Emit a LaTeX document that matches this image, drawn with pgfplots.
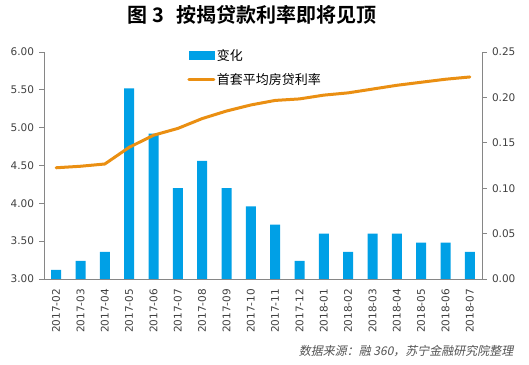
\documentclass[border=0pt]{standalone}
\usepackage{pgfplots}
\pgfplotsset{compat=1.18}
\usepackage{fontspec}
\setmainfont{DejaVu Sans}
\newfontfamily\tickfont{DejaVu Sans}
\newfontfamily\cjk{Noto Sans CJK SC}
\newfontfamily\cjkb{Noto Sans CJK SC Bold}
\newfontfamily\cjkit[FakeSlant=0.2]{Noto Sans CJK SC}
\definecolor{barblue}{HTML}{00A0E6}
\definecolor{lineorange}{HTML}{EA8F12}
\definecolor{axgray}{HTML}{868686}
\definecolor{lblgray}{HTML}{404040}
\pgfplotstableread{
x v
0 0.01
1 0.02
2 0.03
3 0.21
4 0.16
5 0.10
6 0.13
7 0.10
8 0.08
9 0.06
10 0.02
11 0.05
12 0.03
13 0.05
14 0.05
15 0.04
16 0.04
17 0.03
}\changes
\pgfplotstableread{
x r
0 4.47
1 4.49
2 4.52
3 4.74
4 4.90
5 4.99
6 5.12
7 5.22
8 5.30
9 5.36
10 5.38
11 5.43
12 5.46
13 5.51
14 5.56
15 5.60
16 5.64
17 5.67
}\rates
\pgfplotsset{
  common/.style={
    scale only axis,
    width=438bp, height=227bp,
    at={(44bp,86bp)}, anchor=south west,
    xmin=-0.5, xmax=17.5,
    axis line style={axgray, line width=0.8bp},
    tick style={axgray, line width=0.8bp},
    tick align=outside,
    major tick length=4.5bp,
    tick label style={font=\tickfont\fontsize{10.5bp}{12bp}\selectfont, text=lblgray},
    /pgf/number format/assume math mode=true,
    yticklabel style={/pgf/number format/fixed, /pgf/number format/fixed zerofill, /pgf/number format/precision=2},
  }
}
\begin{document}
\begin{tikzpicture}
\path[use as bounding box] (0,0) rectangle (529bp,365bp);
% bars on secondary (right) axis
\begin{axis}[common,
  axis x line*=bottom,
  axis y line*=right,
  ymin=0, ymax=0.25,
  ytick={0,0.05,...,0.25},
  xtick={0,...,17},
  xticklabels={2017-02,2017-03,2017-04,2017-05,2017-06,2017-07,2017-08,2017-09,2017-10,2017-11,2017-12,2018-01,2018-02,2018-03,2018-04,2018-05,2018-06,2018-07},
  x tick label style={rotate=90, anchor=east, xshift=-2bp},
  xtick style={draw=none},
  extra x ticks={-0.5,0.5,...,17.5},
  extra x tick labels={},
  extra x tick style={tick style={axgray, line width=0.8bp, draw=axgray}, major tick length=4.5bp},
  yticklabel style={xshift=2bp},
]
\addplot[ybar, bar width=10bp, bar shift=0pt, fill=barblue, draw=none] table[x=x, y=v] {\changes};
\end{axis}
% line on primary (left) axis
\begin{axis}[common,
  axis x line=none,
  axis y line*=left,
  ymin=3, ymax=6,
  ytick={3,3.5,...,6},
  yticklabel style={xshift=-2bp},
  legend style={at={(0.327,1.02)}, anchor=north west, draw=none, fill=none,
    font=\cjk\fontsize{13bp}{15bp}\selectfont, row sep=9bp, inner sep=0pt,
    nodes={inner sep=1.5bp, anchor=west}},
  legend cell align=left,
]
\addlegendimage{legend image code/.code={\fill[barblue] (0bp,-4bp) rectangle (25bp,4bp);}}
\addlegendentry{变化}
\addplot[lineorange, line width=3bp, line join=round, line cap=round,
  legend image code/.code={\draw[lineorange, line width=3bp] (0bp,0bp) -- (25bp,0bp);}] table[x=x, y=r] {\rates};
\addlegendentry{首套平均房贷利率}
\end{axis}
\node[font=\cjkb\fontsize{20bp}{23bp}\selectfont, text=black] at (252bp,350bp) {图\hspace{5bp}3\hspace{12bp}按揭贷款利率即将见顶};
\node[font=\cjkit\fontsize{12bp}{14bp}\selectfont, text=lblgray!90, anchor=east] at (517bp,14bp) {数据来源：融 360，苏宁金融研究院整理};
\end{tikzpicture}
\end{document}
